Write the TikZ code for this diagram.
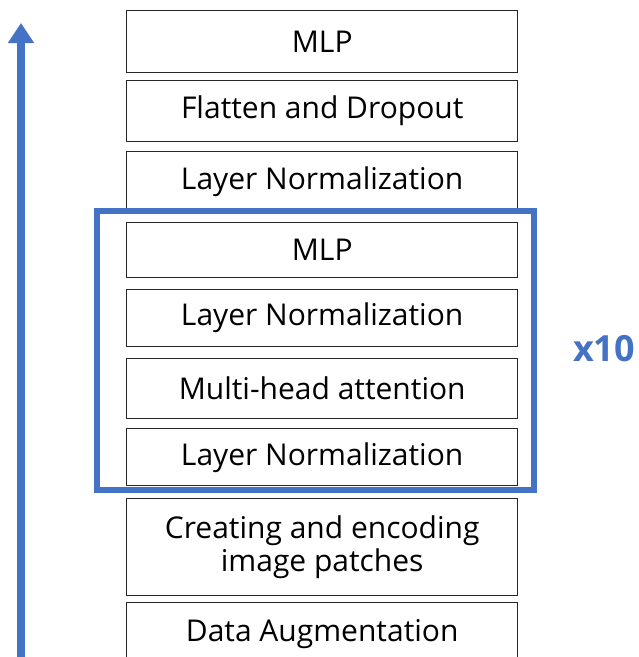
\documentclass[tikz,border=0pt]{standalone}
\usepackage{fontspec}
\setmainfont{Open Sans}
\usetikzlibrary{arrows.meta}
\definecolor{myblue}{RGB}{68,114,196}
\newcommand{\widthlayer}{391pt}
\tikzset{
    layer/.style={draw=black!85, line width=1.4pt, anchor=north west, inner sep=0pt,
        minimum width=\widthlayer, align=center, font=\fontsize{30}{33}\selectfont},
    repeatframe/.style={draw=myblue, line width=6pt},
    flow/.style={draw=myblue, line width=8pt, -{Triangle[width=25pt, length=20pt]}},
}
\begin{document}
\begin{tikzpicture}[x=1pt, y=-1pt]
    \useasboundingbox (0,0) rectangle (639,657);

    % layers, top to bottom
    \node[layer, minimum height=62pt] (mlp-out) at (126,10) {MLP};
    \node[layer, minimum height=61pt] (flatten) at (126,80) {Flatten and Dropout};
    \node[layer, minimum height=60pt] (norm-out) at (126,151) {Layer Normalization};
    \node[layer, minimum height=55pt] (mlp) at (126,222) {MLP};
    \node[layer, minimum height=57pt] (norm-b) at (126,289) {Layer Normalization};
    \node[layer, minimum height=60pt] (attention) at (126,358) {Multi-head attention};
    \node[layer, minimum height=57pt] (norm-a) at (126,428) {Layer Normalization};
    \node[layer, minimum height=97pt] (patches) at (126,498) {Creating and encoding\\image patches};
    \node[layer, minimum height=62pt] (augment) at (126,602) {Data Augmentation};

    % repeated encoder block
    \draw[repeatframe] (97,211) rectangle (534,490);
    \node[text=myblue, font=\fontsize{36}{40}\selectfont\bfseries] (repeats) at (604,349) {x10};

    \coordinate (flowstart) at (21,680);
    \coordinate (flowend) at (21,23);
    \draw[flow] (flowstart) -- (flowend);
\end{tikzpicture}
\end{document}
